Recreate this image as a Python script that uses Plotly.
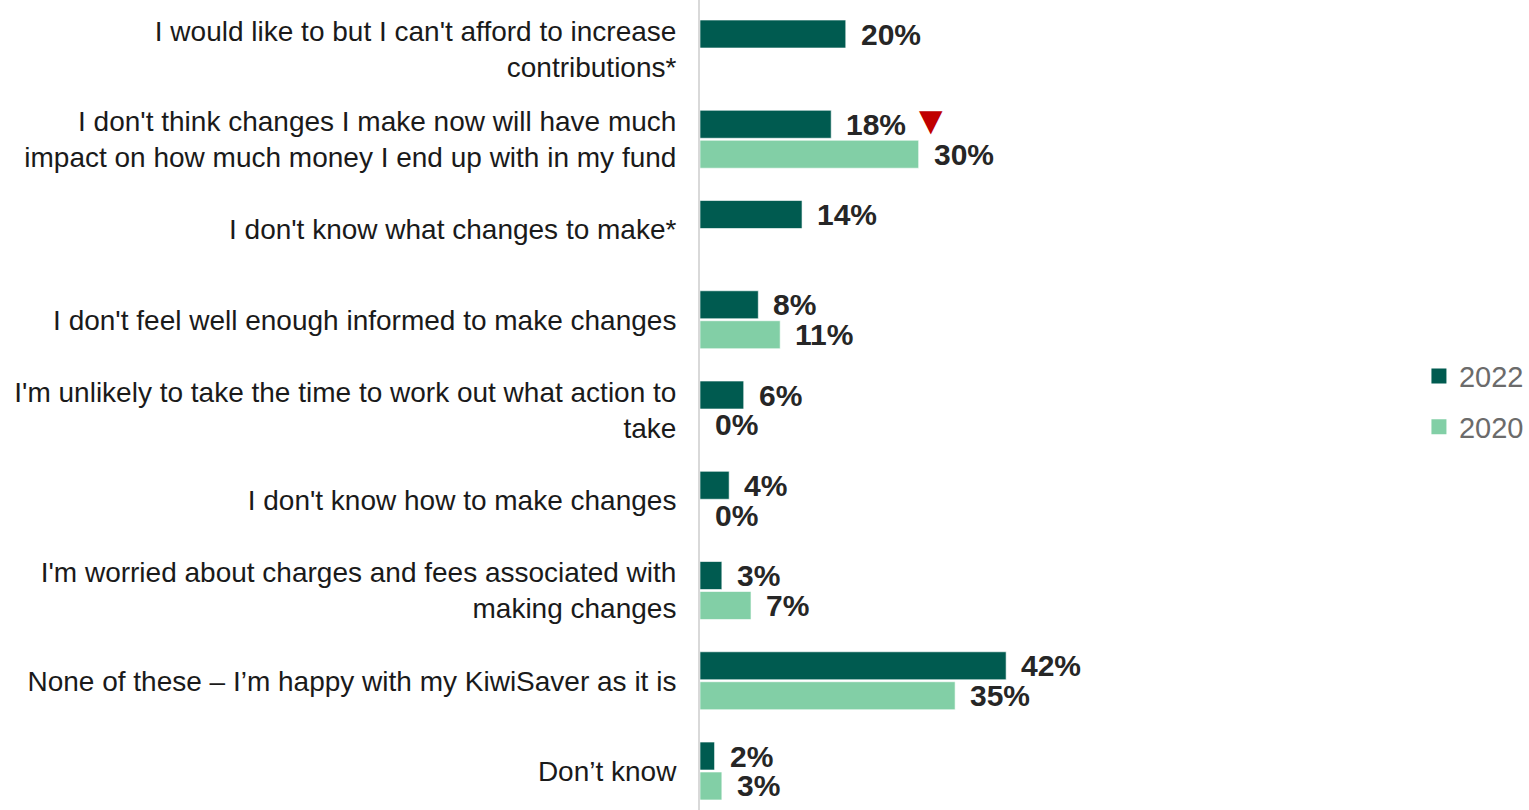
import plotly.graph_objects as go

# Reasons for not changing KiwiSaver settings, share of respondents (%)
categories = [
    "I would like to but I can't afford to increase<br>contributions*",
    "I don't think changes I make now will have much<br>impact on how much money I end up with in my fund",
    "I don't know what changes to make*",
    "I don't feel well enough informed to make changes",
    "I'm unlikely to take the time to work out what action to<br>take",
    "I don't know how to make changes",
    "I'm worried about charges and fees associated with<br>making changes",
    "None of these – I’m happy with my KiwiSaver as it is",
    "Don’t know",
]
values_2022 = [20, 18, 14, 8, 6, 4, 3, 42, 2]
values_2020 = [None, 30, None, 11, 0, 0, 7, 35, 3]
series_names = ["2022", "2020"]
colors = ["#005B50", "#82CFA6"]

# row index for each category; 2022 bar sits above, 2020 bar below
rows = list(range(len(categories)))
bar_width = 0.31
offsets = [-0.321, 0.011]

FONT = "Arial, Liberation Sans, sans-serif"

fig = go.Figure()
for name, vals, col, off in zip(series_names, [values_2022, values_2020], colors, offsets):
    fig.add_trace(go.Bar(
        x=vals, y=rows, orientation="h", name=name,
        width=bar_width, offset=off,
        marker=dict(color=col, line=dict(color="rgba(255,255,255,0.6)", width=1)),
        showlegend=False, hoverinfo="skip",
    ))
# square legend keys for the two survey years
for name, col in zip(series_names, colors):
    fig.add_trace(go.Scatter(
        x=[None], y=[None], mode="markers", name=name, legendgroup=name,
        marker=dict(symbol="square", size=15, color=col),
    ))

# value labels to the right of each bar
annotations = []
for vals, off in zip([values_2022, values_2020], offsets):
    for r, v in zip(rows, vals):
        if v is None:
            continue
        annotations.append(dict(
            x=v, y=r + off + bar_width / 2, xref="x", yref="y",
            text=f"<b>{v}%</b>", showarrow=False, xanchor="left", yanchor="middle",
            xshift=13, font=dict(family=FONT, size=30, color="#262626"),
        ))

# significant-decrease marker beside the 18% label
annotations.append(dict(
    x=values_2022[1], y=rows[1] + offsets[0] + bar_width / 2, xref="x", yref="y",
    text="▼", showarrow=False, xanchor="center", yanchor="middle",
    xshift=100, yshift=4, font=dict(family=FONT, size=40, color="#C00000"),
))

px_per_unit = 90.25
top_pad = 49 / px_per_unit
span = 810 / px_per_unit

fig.update_layout(
    width=1529, height=810,
    margin=dict(l=700, r=129, t=0, b=0),
    paper_bgcolor="white", plot_bgcolor="white",
    barmode="overlay",
    showlegend=True,
    legend=dict(
        x=1.03, y=0.504, xanchor="left", yanchor="middle",
        font=dict(family=FONT, size=29, color="#6B6B6B"),
        traceorder="grouped", tracegroupgap=10, itemwidth=30,
        bgcolor="rgba(0,0,0,0)",
    ),
    annotations=annotations,
    font=dict(family=FONT),
)
fig.update_xaxes(range=[0, 700 / 7.31], showgrid=False, zeroline=False,
                 showticklabels=False, ticks="")
fig.update_yaxes(
    range=[-top_pad + span, -top_pad],
    tickmode="array", tickvals=rows, ticktext=categories,
    tickfont=dict(family=FONT, size=28, color="#1A1A1A"),
    showgrid=False, zeroline=False, ticks="",
    showline=True, linecolor="#D9D9D9", linewidth=2,
    ticklabelstandoff=16,
)

fig.write_html("out.html")
